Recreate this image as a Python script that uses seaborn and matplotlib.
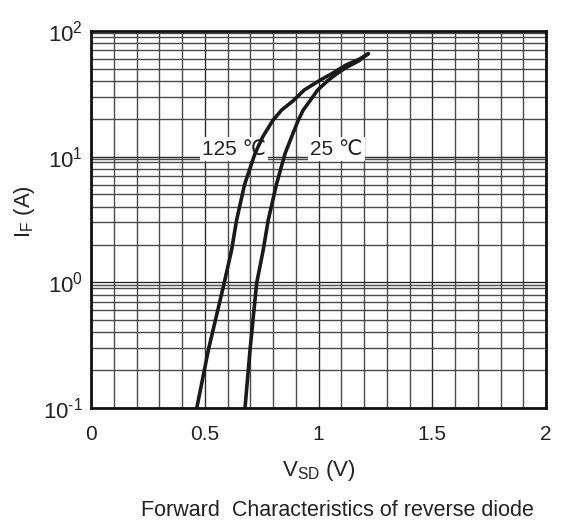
import numpy as np
import pandas as pd
import matplotlib
matplotlib.use("Agg")
import matplotlib.pyplot as plt
from matplotlib.ticker import LogLocator, MultipleLocator, FixedLocator, FixedFormatter
import seaborn as sns

# Forward characteristics of the body diode: V_SD (V) vs I_F (A)
v_125 = [0.465, 0.516, 0.585, 0.618, 0.640, 0.675, 0.721, 0.755, 0.800, 0.838,
         0.889, 0.937, 1.007, 1.065, 1.120, 1.178, 1.219]
i_125 = [0.10, 0.29, 0.98, 1.81, 3.13, 6.0, 10.6, 14.4, 19.5, 23.5,
         27.9, 33.9, 40.6, 46.5, 53.5, 59.5, 66.0]

v_25 = [0.677, 0.699, 0.728, 0.757, 0.779, 0.816, 0.853, 0.882, 0.911, 0.933,
        0.963, 0.996, 1.043, 1.079, 1.120, 1.178, 1.219]
i_25 = [0.10, 0.29, 0.98, 1.81, 3.13, 6.1, 10.6, 14.4, 19.5, 23.5,
        27.9, 33.9, 40.6, 45.5, 51.0, 58.0, 66.0]

curve_labels = ["125 \u2103", "25 \u2103"]
x_ticks = [0, 0.5, 1, 1.5, 2]
x_ticklabels = ["0", "0.5", "1", "1.5", "2"]
y_ticks = [0.1, 1, 10, 100]
y_ticklabels = ["$\\mathregular{10^{\u2010 1}}$", r"$\mathregular{10^{0}}$",
                r"$\mathregular{10^{1}}$", r"$\mathregular{10^{2}}$"]

df = pd.concat([
    pd.DataFrame({"V": v_125, "I": i_125, "T": curve_labels[0]}),
    pd.DataFrame({"V": v_25, "I": i_25, "T": curve_labels[1]}),
], ignore_index=True)

sns.set_theme(style="white")
plt.rcParams["font.family"] = ["Liberation Sans", "DejaVu Sans"]
plt.rcParams["mathtext.fontset"] = "custom"
plt.rcParams["mathtext.rm"] = "Liberation Sans"
plt.rcParams["mathtext.it"] = "Liberation Sans"

fig = plt.figure(figsize=(5.61, 5.23), dpi=100)
ax = fig.add_axes([91 / 561, 1 - 408 / 523, (546 - 91) / 561, (408 - 31) / 523])

sns.lineplot(data=df, x="V", y="I", hue="T", units="T", estimator=None, sort=False,
             palette=["#1a1a1a", "#1a1a1a"], linewidth=2.6, legend=False, ax=ax, zorder=3)

ax.set_yscale("log")
ax.set_xlim(0, 2)
ax.set_ylim(0.1, 100)

# dense grid: 0.1 V steps, log minors with an extra line just under each decade
ax.xaxis.set_major_locator(FixedLocator(x_ticks))
ax.xaxis.set_major_formatter(FixedFormatter(x_ticklabels))
ax.xaxis.set_minor_locator(MultipleLocator(0.1))
ax.yaxis.set_major_locator(FixedLocator(y_ticks))
ax.yaxis.set_major_formatter(FixedFormatter(y_ticklabels))
ax.yaxis.set_minor_locator(LogLocator(base=10, subs=[2, 3, 4, 5, 6, 7, 8, 9, 9.6]))
ax.grid(True, which="major", color="#2a2a2a", linewidth=1.0)
ax.grid(True, which="minor", color="#4a4a4a", linewidth=1.0)
ax.set_axisbelow(True)

ax.tick_params(axis="both", which="both", length=0)
ax.tick_params(axis="x", labelsize=15, pad=12, colors="#222222")
ax.tick_params(axis="y", labelsize=16, pad=6, colors="#222222")

for s in ax.spines.values():
    s.set_color("#111111")
    s.set_linewidth(2.0)

ax.set_xlabel(r"V$_{\mathregular{SD}}$ (V)", fontsize=16, color="#222222", labelpad=10)
ax.set_ylabel(r"I$_{\mathregular{F}}$ (A)", fontsize=16, color="#222222")
ax.yaxis.set_label_coords((37 - 91) / 455, 0.52)

ax.text(0.487, 11.5, curve_labels[0], fontsize=15, va="center", ha="left", color="#222222",
        family=["Liberation Sans", "DejaVu Sans"],
        bbox=dict(facecolor="white", edgecolor="none", pad=1.5), zorder=2.5)
ax.text(0.963, 11.5, curve_labels[1], fontsize=15, va="center", ha="left", color="#222222",
        family=["Liberation Sans", "DejaVu Sans"],
        bbox=dict(facecolor="white", edgecolor="none", pad=1.5), zorder=2.5)

fig.text(337 / 561, 1 - 510 / 523, "Forward  Characteristics of reverse diode",
         fontsize=15.5, ha="center", va="center", color="#222222")

fig.savefig("out.png", dpi=100, facecolor="white")
